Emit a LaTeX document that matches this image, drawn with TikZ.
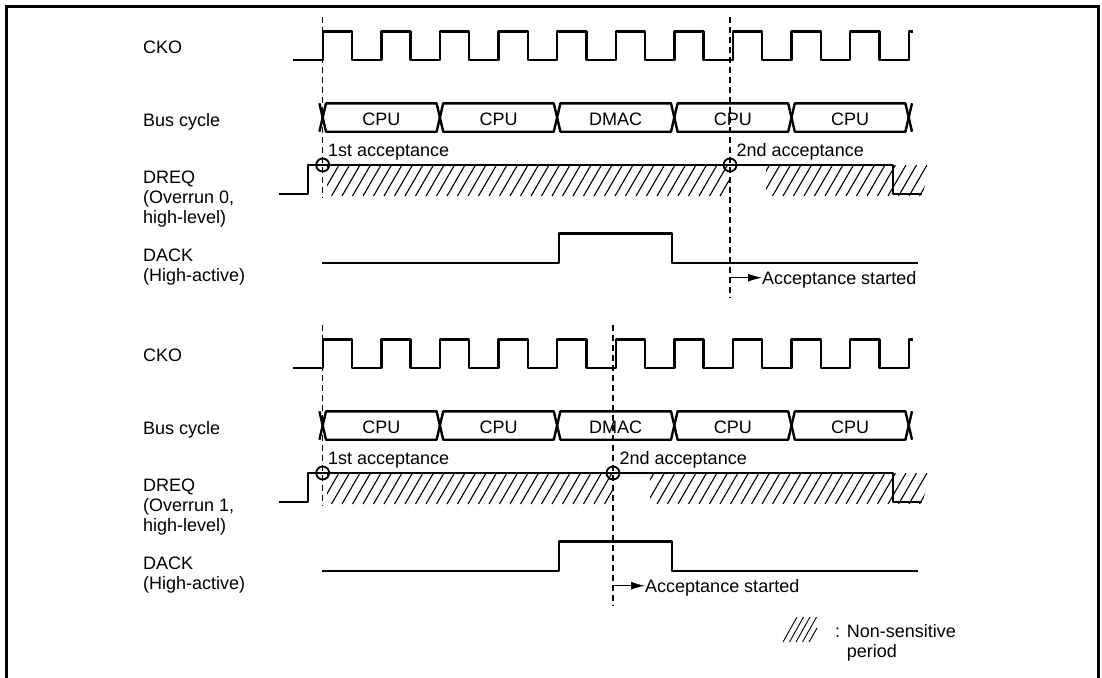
\documentclass[tikz,border=0pt]{standalone}
\usepackage{fontspec}
\setmainfont{Liberation Sans}
\usetikzlibrary{arrows.meta}
\begin{document}
\begin{tikzpicture}[x=1pt,y=-1pt,
 sig/.style={black, line width=2.4pt, line join=round},
 guide/.style={black, line width=1.3pt, dash pattern=on 6pt off 4pt},
 hatch/.style={black, line width=1.1pt},
 lbl/.style={inner sep=0pt, font=\fontsize{18}{20}\selectfont, align=left}]
 \useasboundingbox (0,0) rectangle (1102,677);
 \draw[line width=3pt] (6,690) -- (6,7) -- (1098,7) -- (1098,690);
 \foreach \dy/\acc/\gap/\ovr in {0/730/766/0, 308/613/650/1} {
 \begin{scope}[yshift={-\dy pt}]
 % signal names (base = last line)
 \node[lbl, anchor=base west] (cko\ovr) at (143,53.5) {CKO};
 \node[lbl, anchor=base west] (bus\ovr) at (143,126.5) {Bus cycle};
 \node[lbl, anchor=base west] (dreq\ovr) at (143,223.5) {DREQ\\(Overrun \ovr,\\high-level)};
 \node[lbl, anchor=base west] (dack\ovr) at (143,281.5) {DACK\\(High-active)};
 % CKO
 \draw[sig] (293,60) -- (322.7,60)
 \foreach \k in {0,...,9} { -- ++(0,-28.5) -- ++(29.3,0) -- ++(0,28.5) -- ++(29.3,0) }
 -- ++(0,-28.5) -- ++(4,0);
 % bus cycles
 \draw[sig] (319.4,103.3) -- (322.7,117.5) -- (319.4,131.7);
 \draw[sig] (912,103.3) -- (908.7,117.5) -- (912,131.7);
 \foreach \a/\b/\cyc [count=\i] in {322.7/439.9/CPU, 439.9/557.1/CPU, 557.1/674.3/DMAC, 674.3/791.5/CPU, 791.5/908.7/CPU} {
 \draw[sig] (\a,117.5) -- (\a+3.3,103.3) -- (\b-3.3,103.3) -- (\b,117.5) -- (\b-3.3,131.7) -- (\a+3.3,131.7) -- cycle;
 \node[lbl] (cyc\ovr\i) at ({(\a+\b)/2},119) {\cyc};
 }
 % DREQ with non-sensitive periods
 \begin{scope}
 \clip (327,165) rectangle (\acc,196);
 \foreach \x in {300,310.5,...,940} \draw[hatch] (\x,196) -- ++(18,-31);
 \end{scope}
 \begin{scope}
 \clip (\gap,165) -- (931,165) -- (922,196) -- (\gap,196) -- cycle;
 \foreach \x in {300,310.5,...,940} \draw[hatch] (\x,196) -- ++(18,-31);
 \end{scope}
 \draw[sig] (279,194) -- (308,194) -- (308,165) -- (893,165) -- (893,194) -- (922,194);
 \draw[black, line width=1.8pt] (322.7,165) circle (6.5);
 \draw[black, line width=1.8pt] (\acc,165) circle (6.5);
 % DACK
 \draw[sig] (322,262.7) -- (559,262.7) -- (559,233.3) -- (672,233.3) -- (672,262.7) -- (918,262.7);
 % acceptance points
 \draw[guide] (322.7,17) -- (322.7,198);
 \draw[guide] (\acc,17) -- (\acc,298);
 \node[lbl, anchor=base west] (first\ovr) at (328,156.5) {1st acceptance};
 \node[lbl, anchor=base west] (second\ovr) at (\acc+6.5,156.5) {2nd acceptance};
 \coordinate (go\ovr) at (\acc,277.7);
 \node[lbl, anchor=west, text depth=0pt] (start\ovr) at (\acc+32,277.7) {Acceptance started};
 \draw[line width=1.3pt, -{Latex[length=14pt,width=8pt]}] (go\ovr) -- (start\ovr.west);
 \end{scope}
 }
 % key
 \foreach \x in {783,789.5,796,802.5} \draw[hatch, line width=0.9pt] (\x,642) -- ++(14,-25);
 \draw[hatch, line width=0.9pt] (809,642) -- ++(8,-14);
 \node[lbl, anchor=base west] (key) at (835,657) {: Non-sensitive\\\phantom{: }period};
\end{tikzpicture}
\end{document}
